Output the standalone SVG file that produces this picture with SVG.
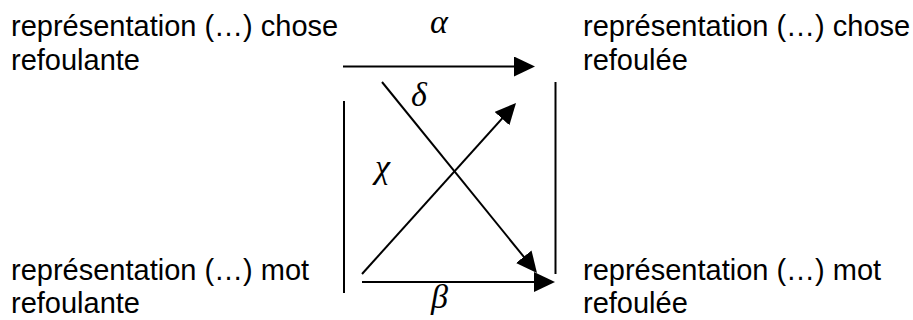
<svg xmlns="http://www.w3.org/2000/svg" width="913" height="320" viewBox="0 0 913 320">
<style>
.lbl{font-family:"Liberation Sans",Arial,sans-serif;font-size:29px;fill:#000}
.gr{font-family:"Liberation Serif","Times New Roman",serif;font-style:italic;font-size:34px;fill:#000}
.ln{stroke:#000;stroke-width:2;fill:none}
.arr{marker-end:url(#ah)}
</style>
<defs>
<marker id="ah" markerUnits="userSpaceOnUse" markerWidth="21" markerHeight="20" refX="18" refY="10" orient="auto">
<path d="M0,0 L21,10 L0,20 Z" fill="#000"/>
</marker>
</defs>
<rect width="913" height="320" fill="#fff"/>
<g id="node-chose-refoulante"><text class="lbl" x="11" y="36">représentation (…) chose</text><text class="lbl" x="11" y="70">refoulante</text></g>
<g id="node-chose-refoulee"><text class="lbl" x="583" y="36">représentation (…) chose</text><text class="lbl" x="583" y="70">refoulée</text></g>
<g id="node-mot-refoulante"><text class="lbl" x="11" y="280">représentation (…) mot</text><text class="lbl" x="11" y="313">refoulante</text></g>
<g id="node-mot-refoulee"><text class="lbl" x="583" y="280">représentation (…) mot</text><text class="lbl" x="583" y="313">refoulée</text></g>
<g id="connectors">
<line class="ln arr" x1="343" y1="66.5" x2="532" y2="66.5"/>
<line class="ln arr" x1="362" y1="282" x2="552" y2="282"/>
<line class="ln arr" x1="382" y1="82" x2="535.1" y2="270.7"/>
<line class="ln arr" x1="362" y1="274" x2="514" y2="105.2"/>
<line class="ln" x1="344" y1="101" x2="344" y2="293"/>
<line class="ln" x1="555.5" y1="82" x2="555.5" y2="274"/>
<text class="gr" x="430" y="33">α</text>
<text class="gr" x="411" y="106">δ</text>
<text class="gr" x="375" y="178">χ</text>
<text class="gr" x="431" y="308">β</text>
</g>
</svg>
